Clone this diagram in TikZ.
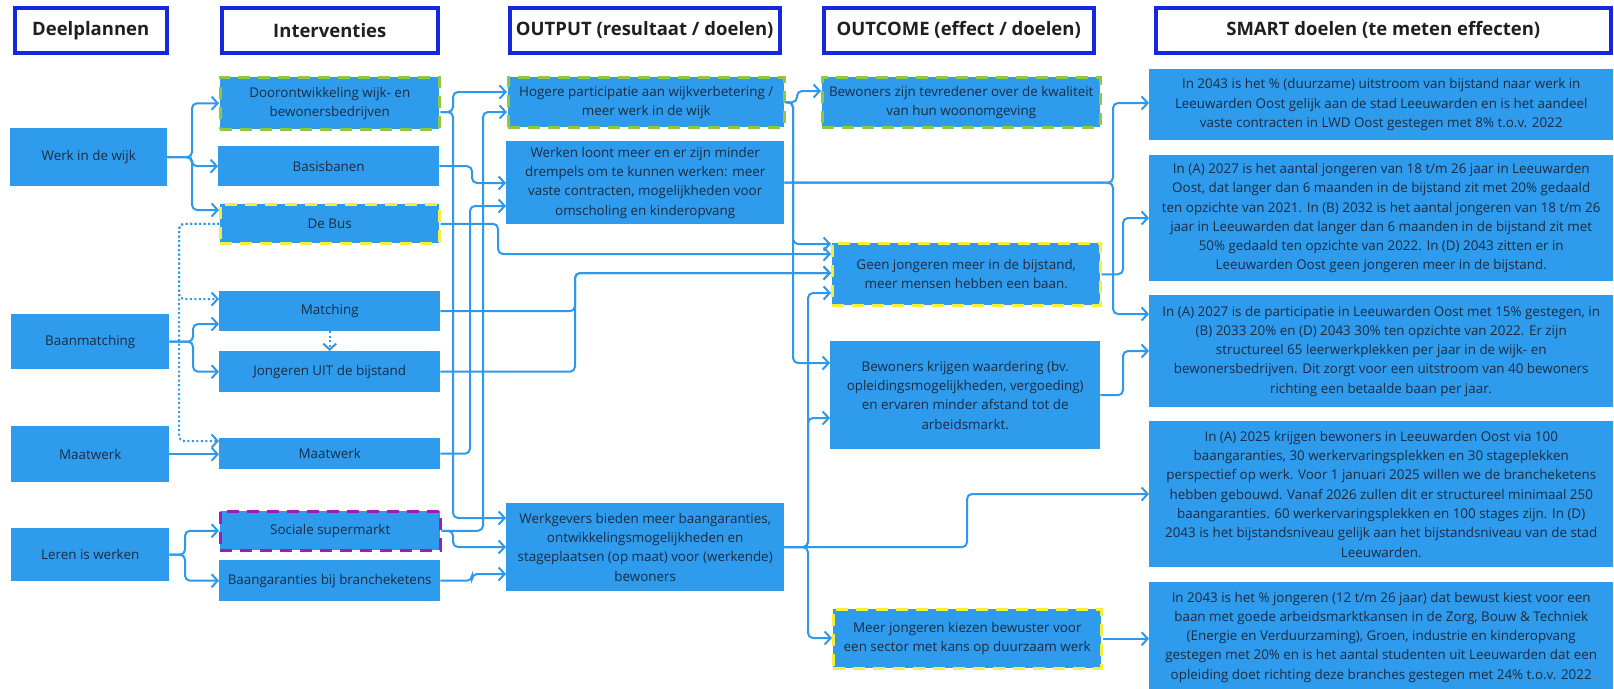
\documentclass[tikz,border=0pt]{standalone}
\usepackage{fontspec}
\setmainfont{Open Sans}
\usetikzlibrary{arrows.meta}

\definecolor{blokblauw}{RGB}{46,155,236}
\definecolor{kopblauw}{RGB}{22,40,222}
\definecolor{tekst}{RGB}{28,44,66}
\definecolor{lijn}{RGB}{48,152,234}
\definecolor{groen}{RGB}{140,200,64}
\definecolor{geel}{RGB}{246,238,60}
\definecolor{paars}{RGB}{158,30,178}

\tikzset{
  kop/.style={draw=kopblauw, line width=3.5pt, fill=white, text=black!88,
    font=\fontsize{18.5}{22}\selectfont\bfseries, inner sep=0pt, anchor=north west},
  blok/.style={fill=blokblauw, text=tekst, font=\fontsize{13.4}{19.3}\selectfont,
    align=center, inner sep=0pt, anchor=north west},
  randgroen/.style={draw=groen, line width=2.5pt, dash pattern=on 12pt off 8pt},
  randgeel/.style={draw=geel, line width=2.5pt, dash pattern=on 12pt off 8pt},
  randpaars/.style={draw=paars, line width=2.5pt, dash pattern=on 12pt off 8pt},
  pijl/.style={draw=lijn, line width=2pt, rounded corners=5pt,
    -{Straight Barb[length=6pt,width=13pt]}},
  stippel/.style={pijl, dash pattern=on 2pt off 2.5pt},
}

\begin{document}
\begin{tikzpicture}[x=1pt,y=-1pt]
\useasboundingbox (0,0) rectangle (1614,688);

% kolomkoppen
\node[kop, minimum width=152, minimum height=45] (kdeel) at (13,6) {Deelplannen};
\node[kop, minimum width=216, minimum height=45] (kint) at (220,6) {Interventies};
\node[kop, minimum width=270, minimum height=45] (kout) at (508,6) {OUTPUT (resultaat / doelen)};
\node[kop, minimum width=270, minimum height=45] (kcome) at (822,6) {OUTCOME (effect / doelen)};
\node[kop, minimum width=455, minimum height=45] (ksmart) at (1154,6) {SMART doelen (te meten effecten)};

% deelplannen
\node[blok, minimum width=157, minimum height=58] (werk) at (10,128) {Werk in de wijk};
\node[blok, minimum width=158, minimum height=55] (baan) at (11,314) {Baanmatching};
\node[blok, minimum width=158, minimum height=56] (maat) at (11,426) {Maatwerk};
\node[blok, minimum width=158, minimum height=53] (leren) at (11,528) {Leren is werken};

% interventies
\node[blok, randgroen, minimum width=219, minimum height=52] (door) at (219,76) {Doorontwikkeling wijk- en\\bewonersbedrijven};
\node[blok, minimum width=221, minimum height=40] (bas) at (218,146) {Basisbanen};
\node[blok, randgeel, minimum width=219, minimum height=39] (bus) at (219,203) {De Bus};
\node[blok, minimum width=221, minimum height=40] (match) at (219,291) {Matching};
\node[blok, minimum width=221, minimum height=41] (jong) at (219,351) {Jongeren UIT de bijstand};
\node[blok, minimum width=221, minimum height=31] (maatint) at (219,438) {Maatwerk};
\node[blok, randpaars, minimum width=220, minimum height=39] (soc) at (219,510) {Sociale supermarkt};
\node[blok, minimum width=221, minimum height=41] (bg) at (219,560) {Baangaranties bij brancheketens};

% output
\node[blok, randgroen, minimum width=276, minimum height=50] (hoger) at (507,76) {Hogere participatie aan wijkverbetering /\\meer werk in de wijk};
\node[blok, minimum width=278, minimum height=83] (werken) at (506,141) {Werken loont meer en er zijn minder\\drempels om te kunnen werken: meer\\vaste contracten, mogelijkheden voor\\omscholing en kinderopvang};
\node[blok, minimum width=278, minimum height=88] (werkg) at (506,503) {Werkgevers bieden meer baangaranties,\\ontwikkelingsmogelijkheden en\\stageplaatsen (op maat) voor (werkende)\\bewoners};

% outcome
\node[blok, randgroen, minimum width=278, minimum height=50] (tevr) at (821,76) {Bewoners zijn tevredener over de kwaliteit\\van hun woonomgeving};
\node[blok, randgeel, minimum width=268, minimum height=62] (geen) at (831,242) {Geen jongeren meer in de bijstand,\\meer mensen hebben een baan.};
\node[blok, minimum width=270, minimum height=108] (krijg) at (830,341) {Bewoners krijgen waardering (bv.\\opleidingsmogelijkheden, vergoeding)\\en ervaren minder afstand tot de\\arbeidsmarkt.};
\node[blok, randgeel, minimum width=268, minimum height=59] (meer) at (832,608) {Meer jongeren kiezen bewuster voor\\een sector met kans op duurzaam werk};

% smart doelen
\node[blok, minimum width=464, minimum height=71] (smart1) at (1149,69) {In 2043 is het \% (duurzame) uitstroom van bijstand naar werk in\\Leeuwarden Oost gelijk aan de stad Leeuwarden en is het aandeel\\vaste contracten in LWD Oost gestegen met 8\% t.o.v. 2022};
\node[blok, minimum width=464, minimum height=126] (smart2) at (1149,155) {In (A) 2027 is het aantal jongeren van 18 t/m 26 jaar in Leeuwarden\\Oost, dat langer dan 6 maanden in de bijstand zit met 20\% gedaald\\ten opzichte van 2021. In (B) 2032 is het aantal jongeren van 18 t/m 26\\jaar in Leeuwarden dat langer dan 6 maanden in de bijstand zit met\\50\% gedaald ten opzichte van 2022. In (D) 2043 zitten er in\\Leeuwarden Oost geen jongeren meer in de bijstand.};
\node[blok, minimum width=464, minimum height=112] (smart3) at (1149,295) {In (A) 2027 is de participatie in Leeuwarden Oost met 15\% gestegen, in\\(B) 2033 20\% en (D) 2043 30\% ten opzichte van 2022. Er zijn\\structureel 65 leerwerkplekken per jaar in de wijk- en\\bewonersbedrijven. Dit zorgt voor een uitstroom van 40 bewoners\\richting een betaalde baan per jaar.};
\node[blok, minimum width=464, minimum height=146] (smart4) at (1149,421) {In (A) 2025 krijgen bewoners in Leeuwarden Oost via 100\\baangaranties, 30 werkervaringsplekken en 30 stageplekken\\perspectief op werk. Voor 1 januari 2025 willen we de brancheketens\\hebben gebouwd. Vanaf 2026 zullen dit er structureel minimaal 250\\baangaranties. 60 werkervaringsplekken en 100 stages zijn. In (D)\\2043 is het bijstandsniveau gelijk aan het bijstandsniveau van de stad\\Leeuwarden.};
\node[blok, minimum width=464, minimum height=110] (smart5) at (1149,582) {In 2043 is het \% jongeren (12 t/m 26 jaar) dat bewust kiest voor een\\baan met goede arbeidsmarktkansen in de Zorg, Bouw \& Techniek\\(Energie en Verduurzaming), Groen, industrie en kinderopvang\\gestegen met 20\% en is het aantal studenten uit Leeuwarden dat een\\opleiding doet richting deze branches gestegen met 24\% t.o.v. 2022};

% deelplannen -> interventies
\draw[pijl] (werk.east) -- (werk.east -| 192,0) |- (door.west);
\draw[pijl] (werk.east) -- (werk.east -| 192,0) |- (bas.west);
\draw[pijl] (werk.east) -- (werk.east -| 192,0) |- (bus.west |- 0,210);
\draw[pijl] (baan.east) -- (baan.east -| 193,0) |- (match.west |- 0,324);
\draw[pijl] (baan.east) -- (baan.east -| 193,0) |- (jong.west);
\draw[pijl] (maat.east) -- (maatint.west |- maat.east);
\draw[pijl] (leren.east) -- (leren.east -| 185,0) |- (soc.west);
\draw[pijl] (leren.east) -- (leren.east -| 185,0) |- (bg.west);

% De Bus -> Matching, Maatwerk
\draw[stippel] (bus.west) -| (179,299) -- (match.west |- 0,299);
\draw[stippel] (bus.west) -| (179,441) -- (maatint.west |- 0,441);
\draw[stippel] (match.south) -- (jong.north);

% interventies -> output
\draw[pijl] (door.east |- 0,112) -- (453,112) |- (hoger.west |- 0,92);
\draw[pijl] (door.east |- 0,112) -- (453,112) |- (werkg.west |- 0,518);
\draw[pijl] (bas.east) -- (bas.east -| 472,0) |- (werken.west |- 0,183);
\draw[pijl] (bus.east) -- (bus.east -| 498,0) |- (geen.west |- 0,254);
\draw[pijl] (match.east) -- (match.east -| 575,0) |- (geen.west |- 0,273);
\draw[pijl] (jong.east) -- (jong.east -| 575,0) |- (geen.west |- 0,273);
\draw[pijl] (maatint.east) -- (maatint.east -| 470,0) |- (werken.west |- 0,206);
\draw[pijl] (soc.east) -- (soc.east -| 483,0) |- (hoger.west |- 0,112);
\draw[pijl] (soc.east) -- (soc.east -| 453,0) |- (werkg.west |- 0,547);
\draw[pijl] (bg.east) -- (bg.east -| 472,0) |- (werkg.west |- 0,574);

% output -> outcome
\draw[pijl] (hoger.east) -- (hoger.east -| 797,0) |- (tevr.west |- 0,91);
\draw[pijl] (hoger.east) -| (793,244) -- (geen.west |- 0,244);
\draw[pijl] (hoger.east) -| (793,363) -- (krijg.west |- 0,363);
\draw[pijl] (werken.east) -| (1113,103) -- (smart1.west |- 0,103);
\draw[pijl] (werken.east) -| (1113,314) -- (smart3.west |- 0,314);
\draw[pijl] (werkg.east) -| (808,293) -- (geen.west |- 0,293);
\draw[pijl] (werkg.east) -| (808,418) -- (krijg.west |- 0,418);
\draw[pijl] (werkg.east) -| (967,494) -- (smart4.west |- 0,494);
\draw[pijl] (werkg.east) -| (808,638) -- (meer.west |- 0,638);

% outcome -> smart doelen
\draw[pijl] (geen.east) -| (1123,218) -- (smart2.west |- 0,218);
\draw[pijl] (krijg.east) -| (1123,351) -- (smart3.west |- 0,351);
\draw[pijl] (meer.east) -- (smart5.west |- meer.east);
\end{tikzpicture}
\end{document}
